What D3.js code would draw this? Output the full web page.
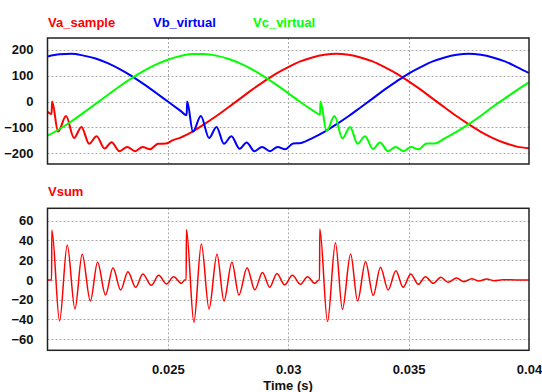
<!DOCTYPE html>
<html>
<head>
<meta charset="utf-8">
<script src="https://cdn.jsdelivr.net/npm/d3@7"></script>
<style>
  body { margin: 0; background: #fff; }
  svg text { font-family: "Liberation Sans", Arial, sans-serif; font-weight: bold; font-size: 13px; }
</style>
</head>
<body>
<div id="chart"></div>
<script>
// [time (s), voltage]
const vaSample = [
  [0.02, -40], [0.02017, -48], [0.02019, 0], [0.02044, -116], [0.02077, -56], [0.0211, -141],
  [0.02141, -98], [0.02173, -163], [0.02204, -134], [0.02237, -181], [0.02266, -157], [0.02299, -192],
  [0.02331, -175], [0.02364, -192], [0.02395, -175], [0.02426, -184], [0.02459, -163], [0.02493, -162],
  [0.02521, -149], [0.0255, -140], [0.026, -117], [0.0265, -88], [0.027, -57], [0.0275, -23],
  [0.028, 11], [0.0285, 46], [0.029, 78], [0.0295, 108], [0.03, 133], [0.0305, 155], [0.031, 170],
  [0.0315, 180], [0.032, 184], [0.0325, 180], [0.033, 170], [0.0335, 155], [0.034, 133], [0.0345, 108],
  [0.035, 78], [0.0355, 46], [0.036, 11], [0.0365, -23], [0.037, -57], [0.0375, -88], [0.038, -117],
  [0.0385, -141], [0.039, -160], [0.0395, -174], [0.04, -180]
];

const vbVirtual = [
  [0.02, 174], [0.0205, 182], [0.021, 184], [0.0215, 177], [0.022, 166], [0.0225, 148], [0.023, 125],
  [0.0235, 98], [0.024, 67], [0.0245, 34], [0.025, 0], [0.0255, -34], [0.02578, -53],
  [0.0258, 0], [0.02604, -116], [0.02637, -56], [0.02671, -141], [0.02702, -98], [0.02733, -163],
  [0.02764, -134], [0.02798, -182], [0.02827, -158], [0.0286, -192], [0.02891, -175], [0.02924, -192],
  [0.02956, -175], [0.02987, -184], [0.0302, -162], [0.03053, -160], [0.031, -141], [0.0315, -117],
  [0.032, -88], [0.0325, -57], [0.033, -23], [0.0335, 11], [0.034, 46], [0.0345, 78], [0.035, 108],
  [0.0355, 133], [0.036, 155], [0.0365, 170], [0.037, 180], [0.0375, 184], [0.038, 180], [0.0385, 170],
  [0.039, 155], [0.0395, 133], [0.04, 110]
];

const vcVirtual = [
  [0.02, -132], [0.0205, -106], [0.021, -76], [0.0215, -43], [0.022, -9], [0.0225, 25], [0.023, 59],
  [0.0235, 90], [0.024, 118], [0.0245, 142], [0.025, 161], [0.0255, 175], [0.026, 183], [0.0265, 183],
  [0.027, 177], [0.0275, 165], [0.028, 147], [0.0285, 124], [0.029, 96], [0.0295, 65], [0.03, 32],
  [0.0305, -2], [0.031, -33], [0.03132, -50],
  [0.03134, 0], [0.03159, -114], [0.03192, -56], [0.03225, -142], [0.03257, -98], [0.03288, -163],
  [0.03319, -134], [0.03352, -183], [0.03381, -158], [0.03415, -192], [0.03446, -175], [0.03479, -192],
  [0.0351, -175], [0.03541, -184], [0.03575, -162], [0.03608, -162], [0.0365, -142], [0.037, -116],
  [0.0375, -87], [0.038, -55], [0.0385, -20], [0.039, 12], [0.0395, 44], [0.04, 74]
];

const vSum = [
  [0.02, 0], [0.02017, 0], [0.02018, 50.6], [0.0205, -41.5], [0.02082, 35.4], [0.02114, -29.3],
  [0.02144, 26], [0.02178, -21.2], [0.02208, 17.9], [0.02241, -15.2], [0.02272, 12.5], [0.02304, -10.1],
  [0.02334, 8.4], [0.02366, -7.4], [0.02396, 6.1], [0.02431, -5.4], [0.02462, 4.7], [0.02494, -4],
  [0.02524, 3.4], [0.02556, -3.4], [0.0257, 0], [0.02576, 0],
  [0.02577, 51.2], [0.02608, -42.8], [0.02639, 36.4], [0.02671, -29.3], [0.02704, 26], [0.02733, -21.2],
  [0.02766, 17.9], [0.02795, -15.2], [0.02829, 12.5], [0.02861, -10], [0.02893, 7.7], [0.02923, -7.4],
  [0.02953, 6.7], [0.02985, -5], [0.03017, 4.7], [0.03051, -4.4], [0.0308, 3.4], [0.0311, -3.4],
  [0.03128, 0], [0.0313, 0],
  [0.03131, 51.6], [0.03163, -42], [0.03196, 37.7], [0.03225, -29.7], [0.03259, 26.3], [0.03288, -21.2],
  [0.03321, 18.5], [0.03353, -15.8], [0.03383, 12.8], [0.03415, -10.1], [0.03447, 9.4], [0.03477, -7.4],
  [0.03509, 6.1], [0.0354, -4.4], [0.0357, 3.4], [0.03602, -3.4], [0.03634, 2.7], [0.03664, -2.4],
  [0.03699, 2], [0.0373, -1.7], [0.03762, 1.3], [0.03792, -1], [0.03824, 1], [0.03856, -0.7],
  [0.0389, 0.3], [0.0395, 0], [0.04, 0]
];

const topTicks = [200, 100, 0, -100, -200];
const bottomTicks = [60, 40, 20, 0, -20, -40, -60];
const xGrid = [0.025, 0.03, 0.035];
const xTicks = [0.025, 0.03, 0.035, 0.04];
const xTickLabels = ["0.025", "0.03", "0.035", "0.04"];

const width = 542;
const height = 392;

const svg = d3.select("#chart")
    .append("svg")
    .attr("width", width)
    .attr("height", height);

const x = d3.scaleLinear().domain([0.02, 0.04]).range([47.5, 529]);
const yTop = d3.scaleLinear().domain([-241, 245]).range([164, 38]);
const yBot = d3.scaleLinear().domain([-71.2, 72.6]).range([350.3, 208.3]);

function drawPanel(id, y, ticks, series) {
    const [y1, y0] = y.range();
    const x0 = x.range()[0], x1 = x.range()[1];

    svg.append("clipPath").attr("id", id)
        .append("rect").attr("x", x0).attr("y", y0).attr("width", x1 - x0).attr("height", y1 - y0);

    svg.append("rect")
        .attr("x", x0).attr("y", y0).attr("width", x1 - x0).attr("height", y1 - y0)
        .attr("fill", "#fff");

    // grid
    const grid = svg.append("g").attr("stroke", "#aaa").attr("stroke-width", 1).attr("stroke-dasharray", "2,2");
    grid.selectAll(".h").data(ticks).join("line")
        .attr("x1", x0).attr("x2", x1)
        .attr("y1", d => Math.round(y(d)) + 0.5).attr("y2", d => Math.round(y(d)) + 0.5);
    grid.selectAll(".v").data(xGrid).join("line")
        .attr("x1", d => Math.round(x(d)) + 0.5).attr("x2", d => Math.round(x(d)) + 0.5)
        .attr("y1", y0).attr("y2", y1);

    // y axis labels
    svg.append("g")
        .attr("transform", `translate(${x0},0)`)
        .call(d3.axisLeft(y).tickValues(ticks).tickSize(0).tickPadding(14).tickFormat(d3.format("d")))
        .call(g => g.select(".domain").remove())
        .call(g => g.selectAll("text").attr("fill", "#111").style("font-family", null).style("font-size", null));

    const line = d3.line()
        .x(d => x(d[0]))
        .y(d => y(d[1]))
        .curve(d3.curveMonotoneX);

    const plot = svg.append("g").attr("clip-path", `url(#${id})`);
    series.forEach(s => {
        plot.append("path")
            .datum(s.data)
            .attr("fill", "none")
            .attr("stroke", s.color)
            .attr("stroke-width", s.width)
            .attr("stroke-linejoin", "round")
            .attr("d", line);
    });

    svg.append("rect")
        .attr("x", x0).attr("y", y0).attr("width", x1 - x0).attr("height", y1 - y0)
        .attr("fill", "none").attr("stroke", "#222").attr("stroke-width", 1.5);
}

drawPanel("clip-top", yTop, topTicks, [
    { data: vaSample, color: "#ff0000", width: 2 },
    { data: vbVirtual, color: "#0000ff", width: 2 },
    { data: vcVirtual, color: "#00ff00", width: 2 }
]);

drawPanel("clip-bottom", yBot, bottomTicks, [
    { data: vSum, color: "#ff0000", width: 1.5 }
]);

// x axis
svg.append("g")
    .attr("transform", `translate(0,${yBot.range()[0]})`)
    .call(d3.axisBottom(x).tickValues(xTicks).tickSize(0).tickPadding(14)
        .tickFormat((d, i) => xTickLabels[i]))
    .call(g => g.select(".domain").remove())
    .call(g => g.selectAll("text").attr("fill", "#111").style("font-family", null).style("font-size", null));

svg.append("text").attr("x", 288).attr("y", 390).attr("text-anchor", "middle").attr("fill", "#111").text("Time (s)");

// series labels
const labels = [
    { text: "Va_sample", x: 48, y: 27, color: "#ff0000" },
    { text: "Vb_virtual", x: 153, y: 27, color: "#0000ff" },
    { text: "Vc_virtual", x: 253, y: 27, color: "#00ff00" },
    { text: "Vsum", x: 48, y: 196, color: "#ff0000" }
];
svg.selectAll(".series-label")
    .data(labels)
    .join("text")
    .attr("class", "series-label")
    .attr("x", d => d.x)
    .attr("y", d => d.y)
    .attr("fill", d => d.color)
    .text(d => d.text);
</script>
</body>
</html>
